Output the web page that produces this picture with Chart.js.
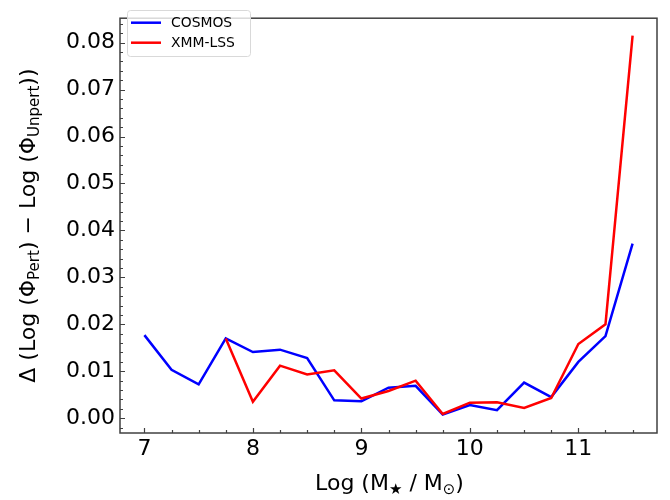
<!DOCTYPE html>
<html>
<head>
<meta charset="utf-8">
<script src="https://cdn.jsdelivr.net/npm/chart.js@4.4.1/dist/chart.umd.min.js"></script>
<style>
  html, body { margin: 0; padding: 0; background: #fff; }
  canvas { display: block; }
</style>
</head>
<body>
<canvas id="deltaChart" width="670" height="500"></canvas>
<script>
// --- data ---
const massBins = [7.0, 7.25, 7.5, 7.75, 8.0, 8.25, 8.5, 8.75, 9.0, 9.25, 9.5, 9.75, 10.0, 10.25, 10.5, 10.75, 11.0, 11.25, 11.5];
const cosmosDelta = [0.0177, 0.0103, 0.0072, 0.0170, 0.0141, 0.0146, 0.0128, 0.0038, 0.0036, 0.0065, 0.0069, 0.0008, 0.0028, 0.0017, 0.0076, 0.0045, 0.0120, 0.0175, 0.0372];
const xmmDelta = [null, null, null, 0.0170, 0.0035, 0.0112, 0.0093, 0.0102, 0.0042, 0.0058, 0.0080, 0.0009, 0.0033, 0.0034, 0.0022, 0.0043, 0.0158, 0.0200, 0.0815];
const xTicks = [7, 8, 9, 10, 11];
const yTicks = [0.00, 0.01, 0.02, 0.03, 0.04, 0.05, 0.06, 0.07, 0.08];

const FONT = '"DejaVu Sans", sans-serif';
const AXIS_COLOR = '#404040';

function toPoints(values) {
    return massBins.map((m, i) => ({ x: m, y: values[i] })).filter(p => p.y !== null);
}

// draws frame, inward ticks, legend and the axis titles (with subscripts)
const mplStyle = {
    id: 'mplStyle',
    afterDatasetsDraw(chart) {
        const { ctx, chartArea: a, scales } = chart;
        const xs = scales.x, ys = scales.y;
        ctx.save();
        ctx.strokeStyle = AXIS_COLOR;
        ctx.lineWidth = 1.5;
        ctx.strokeRect(a.left, a.top, a.right - a.left, a.bottom - a.top);

        ctx.lineWidth = 1.2;
        ctx.beginPath();
        // x ticks: majors every 1, minors every 0.25
        for (let v = 6.75; v <= xs.max; v += 0.25) {
            if (v < xs.min) continue;
            const px = Math.round(xs.getPixelForValue(v)) + 0.5;
            const len = Math.abs(v - Math.round(v)) < 1e-6 ? 5 : 3;
            ctx.moveTo(px, a.bottom);
            ctx.lineTo(px, a.bottom - len);
        }
        // y ticks: majors every 0.01, minors every 0.002
        for (let k = -2; k <= 85; k += 2) {
            const v = k / 1000;
            if (v < ys.min || v > ys.max) continue;
            const py = Math.round(ys.getPixelForValue(v)) + 0.5;
            const len = k % 10 === 0 ? 5 : 3;
            ctx.moveTo(a.left, py);
            ctx.lineTo(a.left + len, py);
        }
        ctx.stroke();
        ctx.restore();
    },
    afterDraw(chart) {
        const { ctx, chartArea: a } = chart;
        ctx.save();

        // legend
        const lx = 127, ly = 10, lw = 123, lh = 46;
        ctx.fillStyle = 'rgba(255,255,255,0.8)';
        ctx.strokeStyle = '#d9d9d9';
        ctx.lineWidth = 1;
        ctx.beginPath();
        ctx.roundRect(lx + 0.5, ly + 0.5, lw, lh, 3);
        ctx.fill();
        ctx.stroke();
        ctx.font = '13.9px ' + FONT;
        ctx.textBaseline = 'middle';
        ctx.fillStyle = '#000';
        chart.data.datasets.forEach((ds, i) => {
            const yy = 22.7 + i * 20;
            ctx.strokeStyle = ds.borderColor;
            ctx.lineWidth = 2.5;
            ctx.beginPath();
            ctx.moveTo(131, yy);
            ctx.lineTo(161, yy);
            ctx.stroke();
            ctx.fillText(ds.label, 171, yy + 1);
        });

        // axis titles drawn piece by piece for the subscripts
        const drawPieces = (pieces) => {
            let w = 0;
            pieces.forEach(p => {
                ctx.font = p.size + 'px ' + FONT;
                p.w = ctx.measureText(p.t).width;
                w += p.w;
            });
            let x = -w / 2;
            pieces.forEach(p => {
                ctx.font = p.size + 'px ' + FONT;
                ctx.fillText(p.t, x, p.dy || 0);
                x += p.w;
            });
        };
        ctx.fillStyle = '#000';
        ctx.textBaseline = 'alphabetic';

        ctx.save();
        ctx.translate((a.left + a.right) / 2 + 1, 490);
        drawPieces([
            { t: 'Log (M', size: 22 },
            { t: '\u2605', size: 15, dy: 4 },
            { t: ' / M', size: 22 },
            { t: '\u2299', size: 15, dy: 4 },
            { t: ')', size: 22 }
        ]);
        ctx.restore();

        ctx.save();
        ctx.translate(35, (a.top + a.bottom) / 2);
        ctx.rotate(-Math.PI / 2);
        drawPieces([
            { t: '\u0394 (Log (\u03a6', size: 22 },
            { t: 'Pert', size: 15, dy: 4 },
            { t: ') \u2212 Log (\u03a6', size: 22 },
            { t: 'Unpert', size: 15, dy: 4 },
            { t: '))', size: 22 }
        ]);
        ctx.restore();

        ctx.restore();
    }
};

new Chart(document.getElementById('deltaChart'), {
    type: 'line',
    data: {
        datasets: [
            { label: 'COSMOS', data: toPoints(cosmosDelta), borderColor: '#0000ff', order: 1 },
            { label: 'XMM-LSS', data: toPoints(xmmDelta), borderColor: '#ff0000', order: 0 }
        ]
    },
    options: {
        responsive: false,
        animation: false,
        devicePixelRatio: 1,
        layout: { padding: { top: 4, right: 13, left: 0, bottom: 0 } },
        elements: {
            line: { borderWidth: 2.5, tension: 0, fill: false, borderJoinStyle: 'miter' },
            point: { radius: 0, hoverRadius: 0 }
        },
        plugins: { legend: { display: false }, tooltip: { enabled: false } },
        scales: {
            x: {
                type: 'linear',
                min: 6.775,
                max: 11.725,
                afterBuildTicks: s => { s.ticks = xTicks.map(v => ({ value: v })); },
                afterFit: s => { s.height = 67; },
                grid: { display: false, drawTicks: false },
                border: { display: false },
                ticks: { color: '#000', font: { family: FONT, size: 22 }, padding: 3, maxRotation: 0,
                         callback: v => String(v) }
            },
            y: {
                type: 'linear',
                min: -0.00315,
                max: 0.0852,
                afterBuildTicks: s => { s.ticks = yTicks.map(v => ({ value: v })); },
                afterFit: s => { s.width = 120; },
                grid: { display: false, drawTicks: false },
                border: { display: false },
                ticks: { color: '#000', font: { family: FONT, size: 22 }, padding: 5,
                         callback: v => v.toFixed(2) }
            }
        }
    },
    plugins: [mplStyle]
});
</script>
</body>
</html>
